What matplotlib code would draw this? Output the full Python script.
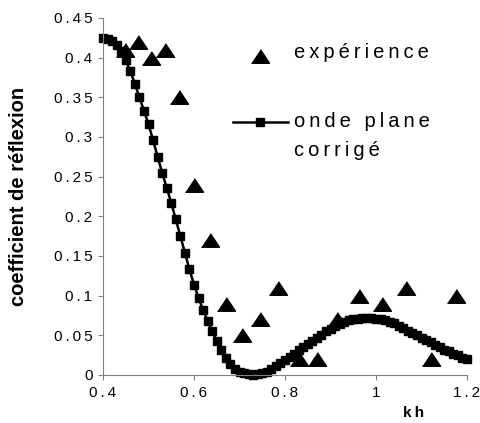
import matplotlib
matplotlib.use("Agg")
import matplotlib.pyplot as plt
from matplotlib.ticker import FuncFormatter, MultipleLocator
from matplotlib.legend_handler import HandlerLine2D
from matplotlib.transforms import Affine2D

plt.rcParams['font.family'] = ['Liberation Sans', 'DejaVu Sans']

TS = '\u2009'  # espace fine pour imiter l'espacement des lettres

# points experimentaux
kh_exp = [0.448, 0.477, 0.505, 0.536, 0.567, 0.600, 0.635, 0.670, 0.705,
          0.745, 0.785, 0.830, 0.870, 0.915, 0.963, 1.013, 1.066, 1.120, 1.175]
r_exp = [0.410, 0.420, 0.400, 0.410, 0.350, 0.240, 0.170, 0.090, 0.050,
         0.070, 0.110, 0.020, 0.020, 0.070, 0.100, 0.090, 0.110, 0.020, 0.100]

# onde plane corrigee
kh_onde = [round(0.40 + 0.01 * i, 2) for i in range(81)]
r_onde = [0.425, 0.424, 0.421, 0.416, 0.408, 0.397, 0.383, 0.367, 0.350, 0.333,
          0.316, 0.296, 0.275, 0.255, 0.236, 0.217, 0.196, 0.175, 0.154, 0.133,
          0.114, 0.097, 0.082, 0.068, 0.055, 0.043, 0.032, 0.022, 0.014, 0.008,
          0.004, 0.002, 0.001, 0.0005, 0.001, 0.002, 0.004, 0.007, 0.011, 0.015,
          0.019, 0.023, 0.027, 0.031, 0.035, 0.039, 0.043, 0.047, 0.051, 0.055,
          0.058, 0.062, 0.064, 0.067, 0.069, 0.070, 0.071, 0.072, 0.072, 0.072,
          0.071, 0.070, 0.069, 0.067, 0.065, 0.062, 0.059, 0.056, 0.053, 0.050,
          0.047, 0.044, 0.041, 0.038, 0.035, 0.032, 0.030, 0.027, 0.025, 0.022,
          0.020]

lab_exp = "expérience"
lab_onde = "onde plane\ncorrigé"


def espacer(s):
    return "\n".join(TS.join(ligne) for ligne in s.split("\n"))


class HandlerDecale(HandlerLine2D):
    # deplace le symbole verticalement (en points)
    def __init__(self, dy, **kw):
        super().__init__(**kw)
        self.dy = dy

    def create_artists(self, legend, orig_handle, xdescent, ydescent,
                       width, height, fontsize, trans):
        trans = Affine2D().translate(0, self.dy) + trans
        return super().create_artists(legend, orig_handle, xdescent, ydescent,
                                      width, height, fontsize, trans)


tri = [(-1, -0.75), (1, -0.75), (0, 0.75)]

fig = plt.figure(figsize=(4.8, 4.23), dpi=100)
ax = fig.add_axes([0.2146, 0.1135, 0.7584, 0.844])

p_exp, = ax.plot(kh_exp, r_exp, linestyle='none', marker=tri, markersize=13,
                 color='black', clip_on=False, label=espacer(lab_exp))
p_onde, = ax.plot(kh_onde, r_onde, color='black', lw=1.8, marker='s',
                  markersize=6, clip_on=False, label=espacer(lab_onde))

ax.set_xlim(0.4, 1.2)
ax.set_ylim(0, 0.45)
ax.xaxis.set_major_locator(MultipleLocator(0.2))
ax.yaxis.set_major_locator(MultipleLocator(0.05))
fmt = FuncFormatter(lambda v, pos: TS.join(f"{round(v, 2):g}"))
ax.xaxis.set_major_formatter(fmt)
ax.yaxis.set_major_formatter(fmt)

for s in ['top', 'right']:
    ax.spines[s].set_visible(False)
for s in ['left', 'bottom']:
    ax.spines[s].set_color('#808080')
    ax.spines[s].set_linewidth(0.8)
ax.tick_params(direction='out', length=3.6, width=0.8, color='#808080',
               labelsize=11, labelcolor='black', pad=4)

ax.set_ylabel("coefficient de réflexion", fontsize=14.5, fontweight='bold')
ax.yaxis.set_label_coords(-0.205, 0.5)
ax.set_xlabel("k" + TS + "h", fontsize=11, fontweight='bold', va='center')
ax.xaxis.set_label_coords(0.854, -0.106)

leg = ax.legend(handles=[p_exp, p_onde], loc='upper left',
                bbox_to_anchor=(0.357, 0.93), frameon=False, fontsize=14.5,
                borderpad=0, borderaxespad=0, handlelength=2.73,
                handletextpad=0.3, labelspacing=2.5,
                handler_map={p_exp: HandlerDecale(-4),
                             p_onde: HandlerDecale(10.4)})
leg.get_texts()[1].set_linespacing(1.67)
for h in leg.legend_handles:
    h.set_clip_on(False)

fig.savefig("out.png", dpi=100)
